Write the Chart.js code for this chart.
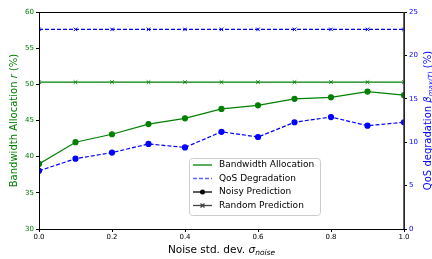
<!DOCTYPE html>
<html>
<head>
<meta charset="utf-8">
<script src="https://cdn.jsdelivr.net/npm/chart.js@4/dist/chart.umd.min.js"></script>
<style>
  html, body { margin: 0; padding: 0; background: #fff; }
  #wrap { width: 432px; height: 259px; position: relative; }
</style>
</head>
<body>
<div id="wrap"><canvas id="myChart"></canvas></div>
<script>
// noise std. dev. values on the x axis
const sigmaNoise = [0.0, 0.1, 0.2, 0.3, 0.4, 0.5, 0.6, 0.7, 0.8, 0.9, 1.0];

// bandwidth allocation r (%) - left axis
const bwNoisy = [39.0, 42.0, 43.1, 44.5, 45.3, 46.6, 47.1, 48.0, 48.2, 49.0, 48.5];
const bwRandom = [50.3, 50.3, 50.3, 50.3, 50.3, 50.3, 50.3, 50.3, 50.3, 50.3, 50.3];

// QoS degradation (%) - right axis
const qosNoisy = [6.7, 8.1, 8.8, 9.8, 9.4, 11.2, 10.6, 12.3, 12.9, 11.9, 12.3];
const qosRandom = [23.0, 23.0, 23.0, 23.0, 23.0, 23.0, 23.0, 23.0, 23.0, 23.0, 23.0];

const leftTicks = [30, 35, 40, 45, 50, 55, 60];
const rightTicks = [0, 5, 10, 15, 20, 25];
const xTicks = [0.0, 0.2, 0.4, 0.6, 0.8, 1.0];

const GREEN = 'green';
const BLUE = 'blue';
const FONT = 'DejaVu Sans';

const toPts = (arr) => arr.map((v, i) => ({ x: sigmaNoise[i], y: v }));

// draws a text with a subscript part
function subText(ctx, x, y, parts, align) {
  let total = 0;
  parts.forEach(p => { ctx.font = p.font; total += ctx.measureText(p.t).width; });
  let cx = align === 'center' ? x - total / 2 : x;
  parts.forEach(p => {
    ctx.font = p.font;
    ctx.fillText(p.t, cx, y + (p.dy || 0));
    cx += ctx.measureText(p.t).width;
  });
}

const extras = {
  id: 'extras',
  afterDraw(chart) {
    const ctx = chart.ctx;
    const a = chart.chartArea;
    ctx.save();
    // frame
    ctx.strokeStyle = '#000';
    ctx.lineWidth = 1;
    ctx.strokeRect(a.left + 0.5, a.top + 0.5, a.right - a.left, a.bottom - a.top);
    ctx.strokeStyle = '#333';
    ctx.lineWidth = 1.5;
    ctx.beginPath(); ctx.moveTo(a.right, a.top); ctx.lineTo(a.right, a.bottom); ctx.stroke();

    ctx.textBaseline = 'alphabetic';
    ctx.textAlign = 'left';

    // x title
    ctx.fillStyle = '#000';
    subText(ctx, (a.left + a.right) / 2, 253, [
      { t: 'Noise std. dev. ', font: '10.5px ' + FONT },
      { t: 'σ', font: 'italic 10.5px ' + FONT },
      { t: 'noise', font: 'italic 7.5px ' + FONT, dy: 2 }
    ], 'center');

    // left title
    ctx.save();
    ctx.translate(17, (a.top + a.bottom) / 2);
    ctx.rotate(-Math.PI / 2);
    ctx.fillStyle = GREEN;
    subText(ctx, 0, 0, [
      { t: 'Bandwidth Allocation ', font: '10px ' + FONT },
      { t: 'r', font: 'italic 10px ' + FONT },
      { t: ' (%)', font: '10px ' + FONT }
    ], 'center');
    ctx.restore();

    // right title
    ctx.save();
    ctx.translate(431, (a.top + a.bottom) / 2);
    ctx.rotate(-Math.PI / 2);
    ctx.fillStyle = BLUE;
    subText(ctx, 0, 0, [
      { t: 'QoS degradation ', font: '10px ' + FONT },
      { t: 'β', font: 'italic 10px ' + FONT },
      { t: 'max(T)', font: 'italic 7px ' + FONT, dy: 2 },
      { t: ' (%)', font: '10px ' + FONT }
    ], 'center');
    ctx.restore();

    // legend box
    const lx = 189, ly = 158, lw = 131, lh = 57;
    ctx.fillStyle = 'rgba(255,255,255,0.8)';
    ctx.strokeStyle = '#ccc';
    ctx.lineWidth = 1;
    ctx.beginPath();
    ctx.roundRect(lx + 0.5, ly + 0.5, lw, lh, 3);
    ctx.fill();
    ctx.stroke();

    const rows = [
      { label: 'Bandwidth Allocation', color: GREEN, dash: [], marker: null },
      { label: 'QoS Degradation', color: 'rgba(80,80,255,0.9)', dash: [4, 2], marker: null },
      { label: 'Noisy Prediction', color: '#000', dash: [], marker: 'circle' },
      { label: 'Random Prediction', color: '#444', dash: [], marker: 'cross' }
    ];
    rows.forEach((r, i) => {
      const ry = 165 + i * 13.5;
      ctx.strokeStyle = r.color;
      ctx.lineWidth = 1.3;
      ctx.setLineDash(r.dash);
      ctx.beginPath(); ctx.moveTo(193, ry); ctx.lineTo(212, ry); ctx.stroke();
      ctx.setLineDash([]);
      if (r.marker === 'circle') {
        ctx.fillStyle = r.color;
        ctx.beginPath(); ctx.arc(202.5, ry, 2.5, 0, Math.PI * 2); ctx.fill();
      } else if (r.marker === 'cross') {
        ctx.beginPath();
        ctx.moveTo(200.5, ry - 2); ctx.lineTo(204.5, ry + 2);
        ctx.moveTo(200.5, ry + 2); ctx.lineTo(204.5, ry - 2);
        ctx.stroke();
      }
      ctx.fillStyle = '#000';
      ctx.font = '9px ' + FONT;
      ctx.textBaseline = 'middle';
      ctx.fillText(r.label, 219, ry);
    });
    ctx.restore();
  }
};

const ctx = document.getElementById('myChart').getContext('2d');
const myChart = new Chart(ctx, {
  type: 'line',
  data: {
    datasets: [
      {
        label: 'Bandwidth Allocation - Noisy',
        data: toPts(bwNoisy),
        yAxisID: 'y',
        borderColor: GREEN,
        backgroundColor: GREEN,
        borderWidth: 1.2,
        pointStyle: 'circle',
        pointRadius: 2.5,
      },
      {
        label: 'Bandwidth Allocation - Random',
        data: toPts(bwRandom),
        yAxisID: 'y',
        borderColor: GREEN,
        backgroundColor: GREEN,
        borderWidth: 1.2,
        pointStyle: 'crossRot',
        pointRadius: 2.5,
        pointBorderWidth: 1,
      },
      {
        label: 'QoS Degradation - Noisy',
        data: toPts(qosNoisy),
        yAxisID: 'y2',
        borderColor: BLUE,
        backgroundColor: BLUE,
        borderWidth: 1.2,
        borderDash: [4, 2],
        pointStyle: 'circle',
        pointRadius: 2.5,
      },
      {
        label: 'QoS Degradation - Random',
        data: toPts(qosRandom),
        yAxisID: 'y2',
        borderColor: BLUE,
        backgroundColor: BLUE,
        borderWidth: 1.2,
        borderDash: [4, 2],
        pointStyle: 'crossRot',
        pointRadius: 2.5,
        pointBorderWidth: 1,
      }
    ]
  },
  options: {
    responsive: true,
    maintainAspectRatio: false,
    animation: false,
    layout: { padding: { top: 12, left: 0, right: 0, bottom: 0 } },
    plugins: {
      legend: { display: false },
      tooltip: { enabled: false },
    },
    scales: {
      x: {
        type: 'linear',
        min: 0, max: 1,
        afterBuildTicks: (s) => { s.ticks = xTicks.map(v => ({ value: v })); },
        afterFit: (s) => { s.height = 30; },
        grid: { drawOnChartArea: false, tickLength: 3, color: '#000' },
        border: { display: false },
        ticks: {
          color: '#000', padding: 1,
          font: { family: FONT, size: 7 },
          callback: (v) => v.toFixed(1),
        },
      },
      y: {
        position: 'left',
        min: 30, max: 60,
        afterBuildTicks: (s) => { s.ticks = leftTicks.map(v => ({ value: v })); },
        afterFit: (s) => { s.width = 39; },
        grid: { drawOnChartArea: false, tickLength: 3, color: '#000' },
        border: { display: false },
        ticks: { color: GREEN, padding: 2, font: { family: FONT, size: 7 } },
      },
      y2: {
        position: 'right',
        min: 0, max: 25,
        afterBuildTicks: (s) => { s.ticks = rightTicks.map(v => ({ value: v })); },
        afterFit: (s) => { s.width = 28; },
        grid: { drawOnChartArea: false, tickLength: 3, color: '#000' },
        border: { display: false },
        ticks: { color: BLUE, padding: 2, font: { family: FONT, size: 7 } },
      }
    }
  },
  plugins: [extras]
});
</script>
</body>
</html>
